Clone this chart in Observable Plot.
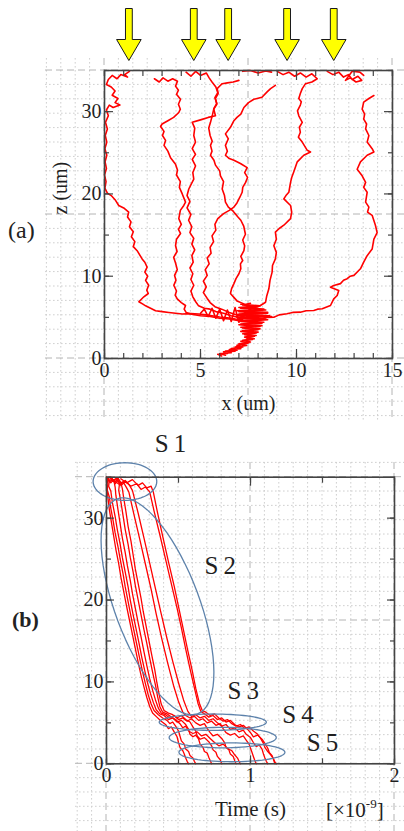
<!DOCTYPE html>
<html><head><meta charset="utf-8">
<script src="https://cdn.jsdelivr.net/npm/d3@7"></script>
<script src="https://cdn.jsdelivr.net/npm/@observablehq/plot@0.6"></script>
<style>
body{margin:0;background:#fff;}
#page{position:relative;width:404px;height:831px;overflow:hidden;font-family:"Liberation Serif",serif;}
.lbl{position:absolute;color:#222;white-space:nowrap;line-height:1;}
</style></head><body><div id="page"></div>
<script>
// ---------- Panel (a): trajectories x (um) vs z (um) ----------
const trajA1 = [[1.3,34.9],[1.05,34.5],[1.2,34.2],[0.85,34.5],[0.65,34.0],[0.4,34.4],[0.2,33.9],[0.1,33.3],[0.35,33.0],[0.55,32.5],[0.4,32.0],[0.7,31.6],[0.55,31.1],[0.8,30.8],[0.45,30.5],[0.25,30.8],[0.1,30.2],[0.2,29.5],[0.05,28.7],[0.15,27.9],[0.04,27.1],[0.12,26.3],[0.02,25.5],[0.12,24.7],[0.03,23.9],[0.1,23.1],[0.0,22.3],[0.08,21.5],[0.02,20.7],[0.15,20.1],[0.35,19.8],[0.55,19.3],[0.74,18.6],[1.0,18.3],[1.26,17.8],[1.2,17.2],[1.38,16.6],[1.3,16.0],[1.5,15.4],[1.4,14.8],[1.58,14.2],[1.5,13.6],[1.7,13.1],[1.96,12.1],[2.1,11.7],[2.22,11.1],[2.1,10.5],[2.25,10.0],[2.14,9.5],[2.3,8.9],[2.2,8.3],[2.28,7.9],[2.05,7.5],[1.79,6.9],[2.0,6.6],[2.14,6.4],[2.4,6.1],[2.66,5.8],[3.0,5.7],[3.35,5.6],[3.7,5.5],[4.05,5.4],[4.5,5.45],[4.91,5.4],[5.3,5.3],[5.6,5.2],[6.0,5.05],[6.4,4.95],[6.82,4.8],[7.2,4.7]];
const trajA2 = [[2.6,34.0],[2.85,33.6],[3.05,34.1],[3.3,33.7],[3.55,34.0],[3.8,33.7],[3.7,33.1],[3.85,32.6],[3.75,32.1],[3.96,31.5],[3.85,30.9],[3.95,30.3],[3.87,29.9],[3.6,29.3],[3.3,28.9],[3.0,28.5],[2.92,28.2],[3.1,27.6],[3.02,27.1],[3.18,26.5],[3.1,25.9],[3.3,25.2],[3.44,24.4],[3.7,23.6],[3.8,22.9],[3.75,22.3],[3.95,21.5],[3.9,20.8],[4.05,20.0],[4.22,19.0],[4.13,18.6],[3.95,18.0],[3.87,17.0],[4.0,16.3],[3.85,15.7],[3.96,15.2],[3.75,14.5],[3.7,13.7],[3.78,13.0],[3.6,12.3],[3.7,11.6],[3.79,10.8],[3.65,10.1],[3.72,9.5],[3.61,8.9],[3.75,8.2],[3.68,7.7],[3.79,7.25],[4.0,6.8],[4.22,6.44],[4.15,6.0],[4.25,5.6],[4.6,5.35],[5.0,5.2],[5.5,5.1],[6.0,4.9],[6.5,4.8],[7.0,4.6]];
const trajA3 = [[4.25,34.8],[4.5,34.3],[4.75,34.9],[5.0,34.4],[5.3,34.7],[5.45,34.1],[5.6,33.6],[5.8,33.0],[5.9,32.3],[5.75,31.7],[5.85,31.0],[5.7,30.4],[5.62,29.6],[5.52,28.7],[5.43,28.0],[5.5,27.1],[5.61,26.4],[5.52,25.9],[5.6,25.2],[5.52,24.7],[5.7,24.1],[5.78,23.5],[6.0,22.8],[6.04,22.2],[6.2,21.5],[6.13,20.6],[6.25,19.8],[6.3,19.0],[6.45,18.4],[6.7,17.9],[6.95,17.2],[7.1,16.8],[7.25,16.1],[7.34,15.1],[7.2,14.4],[7.3,13.7],[7.26,13.1],[7.1,12.4],[7.2,11.9],[7.08,11.5],[7.1,10.9],[7.0,10.3],[6.85,9.7],[6.74,9.1],[6.62,8.5],[6.56,7.9],[6.75,7.4],[6.9,7.0],[7.2,6.7],[7.43,6.4],[7.6,5.8]];
const trajA4 = [[7.0,33.8],[6.7,33.6],[6.4,33.5],[6.13,33.4],[5.95,33.0],[5.87,32.8],[5.92,32.2],[5.78,31.6],[5.85,30.9],[5.69,30.3],[5.78,29.5],[5.4,29.3],[5.0,29.0],[4.57,28.7],[4.7,28.0],[4.65,27.1],[4.74,26.3],[4.57,25.5],[4.74,24.8],[4.57,24.2],[4.74,23.4],[4.6,22.6],[4.65,21.8],[4.39,20.6],[4.3,19.8],[4.45,19.1],[4.3,18.3],[4.5,17.5],[4.38,16.8],[4.55,16.0],[4.45,15.3],[4.65,14.6],[4.55,13.9],[4.7,13.2],[4.55,12.5],[4.62,11.7],[4.45,11.0],[4.6,10.3],[4.5,9.6],[4.65,8.9],[4.5,8.2],[4.6,7.5],[4.75,6.9],[4.9,6.4],[5.2,6.1],[5.5,6.0],[5.8,5.7],[6.2,5.5],[6.6,5.2],[7.0,5.0],[7.4,4.9]];
const trajA5 = [[8.9,33.2],[8.65,32.8],[8.47,32.4],[8.2,31.75],[7.95,31.6],[7.78,31.5],[7.5,31.1],[7.26,30.5],[7.1,29.7],[6.9,29.3],[6.74,28.9],[6.56,28.1],[6.3,27.3],[6.45,26.7],[6.3,25.9],[6.4,25.2],[6.3,24.7],[6.5,24.3],[6.74,24.1],[7.08,23.7],[7.43,23.2],[7.3,22.6],[7.45,22.0],[7.35,21.4],[7.2,20.8],[7.17,20.2],[7.05,19.6],[6.9,18.9],[6.74,18.4],[6.5,18.0],[6.2,17.6],[5.9,17.0],[5.75,16.3],[5.8,15.6],[5.6,14.9],[5.68,14.2],[5.5,13.5],[5.55,12.8],[5.35,12.2],[5.45,11.5],[5.25,10.8],[5.35,10.1],[5.15,9.4],[5.3,8.7],[5.15,8.0],[5.35,7.3],[5.5,6.8],[5.75,6.3],[6.1,6.0],[6.5,5.6],[6.9,5.3],[7.3,5.0]];
const trajA6 = [[9.0,34.9],[9.3,34.5],[9.6,34.8],[9.9,34.3],[10.2,34.7],[10.5,34.2],[10.8,34.6],[11.08,34.0],[10.8,33.6],[10.47,33.4],[10.3,32.8],[10.2,32.2],[10.12,31.6],[10.25,31.2],[10.2,30.8],[10.05,30.1],[10.12,29.5],[10.3,28.7],[10.15,28.1],[10.2,27.5],[10.1,26.9],[10.3,26.3],[10.56,25.3],[10.73,25.1],[10.38,24.7],[10.04,23.9],[9.95,23.3],[9.86,22.7],[9.75,22.0],[9.69,21.4],[9.6,20.2],[9.45,19.8],[9.34,19.4],[9.69,18.6],[9.75,17.8],[9.69,17.0],[9.34,16.2],[9.1,15.8],[8.9,15.35],[8.95,14.5],[8.82,13.7],[8.95,12.9],[8.9,12.1],[8.75,11.3],[8.73,10.5],[8.62,9.5],[8.56,8.47],[8.45,7.6],[8.39,6.84],[8.12,6.44],[7.6,6.0],[7.08,5.2]];
const trajA7 = [[14.03,31.96],[13.77,31.6],[13.5,31.15],[13.42,30.3],[13.55,29.7],[13.5,29.1],[13.65,28.5],[13.6,27.9],[13.77,27.1],[13.68,26.3],[13.94,25.5],[14.03,25.1],[13.68,24.7],[13.33,23.9],[13.16,23.0],[13.42,22.2],[13.6,21.4],[13.5,20.8],[13.68,20.2],[13.6,19.0],[13.77,18.4],[13.7,17.8],[13.94,17.4],[14.11,16.2],[14.2,15.3],[14.03,14.5],[13.94,13.3],[13.68,12.5],[13.5,11.7],[13.33,10.9],[12.99,10.1],[12.8,10.0],[12.64,9.7],[12.45,9.5],[12.29,9.1],[11.94,8.87],[11.77,8.67],[12.2,8.26],[12.12,7.66],[11.94,7.25],[11.77,6.44],[11.34,6.04],[11.1,6.0],[10.9,5.83],[10.5,5.8],[10.2,5.63],[9.8,5.6],[9.5,5.43],[9.1,5.3],[8.82,5.02],[8.45,5.0],[8.12,4.82],[7.6,4.62]];
const trajA8 = [[11.6,34.9],[11.9,34.5],[12.2,34.8],[12.45,34.2],[12.7,34.5],[12.9,33.9],[13.2,34.3],[13.4,33.8],[13.1,33.6],[12.8,34.1],[12.55,33.8],[12.9,34.9],[13.3,34.8],[13.5,34.4]];
const trajA9 = [[7.2,34.9],[7.6,35.0],[8.0,34.7],[8.4,34.95],[8.7,34.8]];
const clusterA1 = [[7.1,6.6],[8.1,6.4],[7.0,6.2],[8.3,6.0],[6.9,5.8],[8.5,5.6],[7.0,5.4],[8.6,5.2],[6.9,5.0],[8.4,4.8],[7.0,4.6],[8.3,4.4],[7.1,4.2],[8.2,4.0],[7.1,3.8],[8.1,3.6],[7.2,3.4],[8.0,3.2],[7.2,3.0],[7.9,2.8],[7.3,2.6],[7.8,2.4],[7.2,2.2],[7.6,2.0],[7.0,1.8],[7.4,1.6],[6.8,1.4],[7.1,1.2],[6.5,1.1],[6.8,0.9],[6.2,0.8],[6.4,0.6],[5.9,0.5],[6.1,0.3]];
const clusterA2 = [[7.6,6.7],[7.2,6.5],[8.0,6.3],[7.1,6.1],[8.4,5.9],[7.0,5.7],[8.5,5.5],[6.9,5.3],[8.7,5.1],[7.0,4.9],[8.5,4.7],[7.1,4.5],[8.2,4.3],[7.0,4.1],[8.1,3.9],[7.2,3.7],[8.0,3.5],[7.1,3.3],[7.9,3.1],[7.3,2.9],[7.8,2.7],[7.4,2.5],[7.7,2.3],[7.1,2.1],[7.5,1.9],[6.9,1.6],[7.2,1.4],[6.6,1.2],[6.9,1.0],[6.3,0.9],[6.6,0.7],[6.0,0.6],[6.3,0.4]];
const clusterA3 = [[5.0,5.5],[5.2,6.0],[5.4,5.1],[5.6,6.1],[5.8,4.9],[6.0,6.0],[6.2,4.6],[6.4,5.9],[6.6,4.5],[6.8,6.2],[7.0,4.4],[7.3,5.3]];
const trajsA = [trajA1,trajA2,trajA3,trajA4,trajA5,trajA6,trajA7,trajA8,trajA9,clusterA1,clusterA2,clusterA3];
const arrowX = [1.27, 4.65, 6.44, 9.51, 11.94];
const xTicksA = [0,5,10,15];
const xMinorA = [0,1,2,3,4,5,6,7,8,9,10,11,12,13,14,15];
const zTicks = [0,10,20,30];
const zMinor = [0,5,10,15,20,25,30,35];

// ---------- Panel (b): z vs time (x1e-9 s) ----------
const trajB1 = [[0,35],[0.01,34.2],[0.005,33.4],[0.02,32.6],[0.03,31.2],[0.045,29.8],[0.06,28.2],[0.08,26.5],[0.095,25.0],[0.115,23.2],[0.13,21.6],[0.15,19.8],[0.17,18.0],[0.19,16.3],[0.21,14.6],[0.23,12.9],[0.25,11.3],[0.27,9.8],[0.29,8.4],[0.31,7.3],[0.33,6.5],[0.36,6.0],[0.39,5.6],[0.42,5.3],[0.44,4.9],[0.46,5.1],[0.48,4.6],[0.5,4.0],[0.51,3.4],[0.52,2.8],[0.54,2.4],[0.55,1.8],[0.57,1.5],[0.58,1.0],[0.6,0.7],[0.61,0.3],[0.62,0]];
const trajB2 = [[0,35],[0.02,34.6],[0.015,33.9],[0.03,33.3],[0.04,32.0],[0.06,30.2],[0.075,28.6],[0.095,26.8],[0.11,25.2],[0.13,23.4],[0.15,21.6],[0.165,20.0],[0.185,18.2],[0.205,16.5],[0.225,14.8],[0.245,13.0],[0.265,11.4],[0.285,9.9],[0.305,8.6],[0.325,7.5],[0.345,6.6],[0.37,6.1],[0.4,5.9],[0.43,5.4],[0.46,5.6],[0.49,5.1],[0.52,5.3],[0.55,4.8],[0.57,4.2],[0.58,3.6],[0.6,3.3],[0.62,3.5],[0.64,3.0],[0.65,2.4],[0.67,2.0],[0.68,1.5],[0.7,1.3],[0.71,0.8],[0.72,0.4],[0.73,0]];
const trajB3 = [[0.01,35],[0.03,34.3],[0.05,34.7],[0.06,33.8],[0.065,32.8],[0.08,31.0],[0.095,29.3],[0.11,27.6],[0.13,25.8],[0.145,24.2],[0.165,22.4],[0.18,20.8],[0.2,19.0],[0.22,17.2],[0.24,15.5],[0.26,13.7],[0.28,12.0],[0.3,10.4],[0.32,9.0],[0.34,7.8],[0.36,6.8],[0.38,6.2],[0.41,6.0],[0.44,5.6],[0.47,5.9],[0.5,5.4],[0.53,5.6],[0.56,5.2],[0.59,5.5],[0.62,5.0],[0.65,4.7],[0.68,4.9],[0.7,4.3],[0.72,3.8],[0.74,3.4],[0.77,3.6],[0.8,3.1],[0.82,2.6],[0.83,2.0],[0.85,1.7],[0.86,1.2],[0.88,0.9],[0.89,0.4],[0.9,0]];
const trajB4 = [[0.02,35],[0.04,34.5],[0.07,34.9],[0.09,34.2],[0.085,33.4],[0.1,32.0],[0.115,30.3],[0.13,28.6],[0.15,26.8],[0.165,25.2],[0.185,23.4],[0.2,21.8],[0.22,20.0],[0.24,18.2],[0.26,16.4],[0.28,14.7],[0.3,12.9],[0.32,11.2],[0.34,9.6],[0.355,8.2],[0.37,7.0],[0.39,6.3],[0.42,6.1],[0.45,5.7],[0.48,5.4],[0.51,4.9],[0.53,4.4],[0.55,4.6],[0.57,4.0],[0.6,3.7],[0.63,3.9],[0.66,3.4],[0.69,3.6],[0.72,3.1],[0.75,2.6],[0.78,2.2],[0.81,2.4],[0.84,1.9],[0.87,1.6],[0.89,1.1],[0.91,0.7],[0.92,0.3],[0.93,0]];
const trajB5 = [[0,34.6],[0.005,33.6],[0.01,32.5],[0.02,31.0],[0.035,29.4],[0.05,27.8],[0.065,26.2],[0.085,24.4],[0.1,22.8],[0.12,21.0],[0.14,19.2],[0.16,17.5],[0.18,15.8],[0.2,14.1],[0.22,12.4],[0.24,10.8],[0.26,9.4],[0.28,8.1],[0.3,7.0],[0.32,6.2],[0.35,5.7],[0.38,5.2],[0.41,4.8],[0.43,4.3],[0.45,4.5],[0.47,3.9],[0.49,3.3],[0.5,2.6],[0.51,2.0],[0.53,1.6],[0.54,1.2],[0.55,0.7],[0.56,0.3],[0.57,0]];
const trajB6 = [[0.03,35],[0.06,34.4],[0.08,34.8],[0.1,34.3],[0.11,33.6],[0.12,32.4],[0.135,30.8],[0.15,29.0],[0.17,27.2],[0.185,25.5],[0.2,23.8],[0.22,22.0],[0.24,20.2],[0.255,18.6],[0.275,16.8],[0.295,15.0],[0.315,13.2],[0.335,11.5],[0.35,9.9],[0.365,8.5],[0.38,7.3],[0.4,6.5],[0.43,6.2],[0.46,6.0],[0.49,5.6],[0.52,5.9],[0.55,5.4],[0.58,5.1],[0.6,4.5],[0.62,4.0],[0.63,3.4],[0.65,3.0],[0.68,3.2],[0.71,2.7],[0.73,2.2],[0.74,1.7],[0.76,1.4],[0.77,0.9],[0.79,0.5],[0.8,0]];
const trajB7 = [[0,35],[0.02,34.4],[0.04,34.8],[0.06,34.2],[0.08,34.6],[0.1,34.0],[0.12,34.3],[0.14,33.7],[0.155,33.2],[0.19,30.5],[0.23,27.5],[0.27,24.4],[0.31,21.3],[0.345,18.3],[0.385,15.2],[0.425,12.3],[0.465,9.6],[0.5,7.6],[0.53,6.3],[0.55,5.9],[0.58,5.6],[0.61,5.8],[0.64,5.3],[0.67,5.5],[0.7,5.0],[0.73,5.2],[0.76,4.7],[0.79,4.9],[0.81,4.3],[0.83,3.8],[0.86,3.5],[0.89,3.7],[0.92,3.2],[0.95,3.4],[0.97,2.9],[0.99,2.4],[1.0,1.9],[1.01,1.4],[1.02,0.9],[1.03,0.4],[1.04,0]];
const trajB8 = [[0.03,35],[0.05,34.5],[0.08,34.9],[0.1,34.3],[0.13,34.6],[0.16,34.0],[0.18,33.4],[0.22,30.6],[0.26,27.6],[0.3,24.5],[0.34,21.4],[0.38,18.3],[0.42,15.3],[0.46,12.5],[0.5,9.9],[0.535,7.8],[0.565,6.4],[0.59,5.8],[0.62,6.0],[0.65,5.6],[0.68,5.8],[0.71,5.3],[0.74,5.5],[0.77,5.0],[0.8,4.6],[0.83,4.8],[0.86,4.2],[0.89,4.4],[0.92,3.9],[0.95,4.1],[0.97,3.6],[1.0,3.2],[1.02,2.6],[1.04,2.1],[1.06,2.3],[1.08,1.8],[1.09,1.2],[1.1,0.7],[1.11,0.3],[1.12,0]];
const trajB9 = [[0.05,34.6],[0.09,34.1],[0.13,34.5],[0.17,33.9],[0.21,34.2],[0.24,33.5],[0.27,33.8],[0.3,33.2],[0.33,30.9],[0.37,28.0],[0.41,25.0],[0.45,22.0],[0.49,19.0],[0.52,16.6],[0.55,14.0],[0.58,11.6],[0.61,9.3],[0.635,7.4],[0.655,6.4],[0.68,6.1],[0.71,5.7],[0.74,5.9],[0.77,5.4],[0.8,5.6],[0.83,5.1],[0.86,5.3],[0.89,4.8],[0.92,4.5],[0.95,4.7],[0.98,4.2],[1.0,3.8],[1.02,3.3],[1.05,3.5],[1.08,3.0],[1.1,2.5],[1.12,1.9],[1.13,1.4],[1.15,1.0],[1.16,0.5],[1.17,0]];
const trajB10 = [[0.1,34.8],[0.14,34.3],[0.18,34.7],[0.22,34.0],[0.25,34.3],[0.28,33.7],[0.31,33.9],[0.325,33.2],[0.355,30.6],[0.39,27.8],[0.43,24.7],[0.47,21.7],[0.505,18.8],[0.535,16.3],[0.565,13.8],[0.595,11.4],[0.62,9.2],[0.645,7.4],[0.665,6.5],[0.69,6.3],[0.72,5.9],[0.75,6.1],[0.78,5.6],[0.81,5.2],[0.84,5.4],[0.87,4.9],[0.9,4.6],[0.93,4.8],[0.96,4.3],[0.99,4.5],[1.02,4.0],[1.05,3.6],[1.07,3.1],[1.09,2.5],[1.1,2.0],[1.12,1.5],[1.14,1.1],[1.16,0.6],[1.17,0.2],[1.18,0]];
const trajsB = [trajB1,trajB2,trajB3,trajB4,trajB5,trajB6,trajB7,trajB8,trajB9,trajB10];
const stageNames = ["S1","S2","S3","S4","S5"];
const stageLabelT = [0.444, 0.79, 0.95, 1.33, 1.5];
const stageLabelZ = [39.0, 24.2, 8.95, 5.9, 2.6];
const ellCenterT = [0.128, 0.354, 0.738, 0.807, 0.871];
const ellCenterZ = [34.47, 19.23, 5.08, 3.2, 1.4];
const ellAxis1T = [0.221, 0.279, 0.372, 0.372, 0.368];
const ellAxis1Z = [0, -13.13, 0, 0, 0];
const ellAxis2T = [0, 0.275, 0, 0, 0];
const ellAxis2Z = [2.3, 1.78, 1.0, 1.25, 1.15];
const tTicks = [0,1,2];
const tMinor = [0,0.5,1,1.5,2];

// ---------- build ----------
const page = document.getElementById("page");
const RED = "#ff0000", AX = "#444", TXT = "#1f1f1f";

// grid paper background
const bg = d3.create("svg").attr("width",404).attr("height",831)
  .style("position","absolute").style("left","0px").style("top","0px");
function paper(x0, y0, dx, dy, kx0, kx1, ky0, ky1, xmin, xmax, ymin, ymax) {
  for (let k = kx0; k <= kx1; k++) {
    const x = x0 + k*dx, major = k % 10 === 0;
    bg.append("line").attr("x1",x).attr("x2",x).attr("y1",ymin).attr("y2",ymax)
      .attr("stroke", major ? "#b4b4b4" : "#cfcfcf").attr("stroke-width",1)
      .attr("stroke-dasharray", major ? "7 4" : "1.6 2.4");
  }
  for (let k = ky0; k <= ky1; k++) {
    const y = y0 + k*dy, major = k % 10 === 0;
    bg.append("line").attr("y1",y).attr("y2",y).attr("x1",xmin).attr("x2",xmax)
      .attr("stroke", major ? "#b4b4b4" : "#cfcfcf").attr("stroke-width",1)
      .attr("stroke-dasharray", major ? "7 4" : "1.6 2.4");
  }
}
paper(104, 70, 14.4, 14.4, -4, 21, 0, 24, 45, 404, 58, 420);
paper(106, 476.7, 14.4, 14.33, -2, 20, -1, 24, 75, 404, 462, 831);
page.appendChild(bg.node());

function flat(list) {
  return list.flatMap((pts, i) => pts.map(([x, y]) => ({id: i, x, y})));
}
function inwardTicks(xMajor, xMinor, yMajor, yMinor, big, small) {
  const o = {stroke: AX, strokeWidth: 1.2, label: null, tickFormat: () => ""};
  return [
    Plot.axisX({...o, anchor: "bottom", ticks: xMinor, tickSize: small, dy: -small}),
    Plot.axisX({...o, anchor: "bottom", ticks: xMajor, tickSize: big, dy: -big}),
    Plot.axisX({...o, anchor: "top", ticks: xMinor, tickSize: small, dy: small}),
    Plot.axisX({...o, anchor: "top", ticks: xMajor, tickSize: big, dy: big}),
    Plot.axisY({...o, anchor: "left", ticks: yMinor, tickSize: small, dx: small}),
    Plot.axisY({...o, anchor: "left", ticks: yMajor, tickSize: big, dx: big}),
    Plot.axisY({...o, anchor: "right", ticks: yMinor, tickSize: small, dx: -small}),
    Plot.axisY({...o, anchor: "right", ticks: yMajor, tickSize: big, dx: -big})
  ];
}
function place(svg, top) {
  svg.style.position = "absolute";
  svg.style.left = "0px";
  svg.style.top = top + "px";
  svg.style.background = "transparent";
  svg.style.overflow = "visible";
  svg.setAttribute("font-family", "Liberation Serif, serif");
  svg.setAttribute("font-size", "20");
  page.appendChild(svg);
}

const arrowSymbol = {
  draw(ctx) {
    ctx.moveTo(-3.4, -62); ctx.lineTo(3.4, -62); ctx.lineTo(3.4, -31);
    ctx.lineTo(12.3, -31); ctx.lineTo(0, -10); ctx.lineTo(-12.3, -31);
    ctx.lineTo(-3.4, -31); ctx.closePath();
  }
};

const plotA = Plot.plot({
  width: 404, height: 420,
  marginTop: 70, marginRight: 12, marginBottom: 62, marginLeft: 104,
  x: {domain: [0, 15]}, y: {domain: [0, 35]},
  marks: [
    Plot.line(flat(trajsA), {x: "x", y: "y", z: "id", stroke: RED, strokeWidth: 1.6, strokeLinejoin: "round"}),
    Plot.frame({stroke: AX, strokeWidth: 1.6}),
    ...inwardTicks(xTicksA, xMinorA, zTicks, zMinor, 9, 5),
    Plot.axisX({anchor: "bottom", ticks: xTicksA, tickSize: 0, tickPadding: 4, tickFormat: d => String(d), label: null, fill: TXT, fontSize: 20}),
    Plot.axisY({anchor: "left", ticks: zTicks, tickSize: 0, tickPadding: 3, tickFormat: d => String(d), label: null, fill: TXT, fontSize: 20}),
    Plot.text(["x (um)"], {frameAnchor: "bottom", lineAnchor: "middle", dy: 45, fill: TXT, fontSize: 20}),
    Plot.text(["z (um)"], {frameAnchor: "left", lineAnchor: "middle", rotate: -90, dx: -44, fill: TXT, fontSize: 20}),
    Plot.dot(arrowX, {x: d => d, frameAnchor: "top", symbol: arrowSymbol, fill: "#ffff00", stroke: "#1a1a1a", strokeWidth: 1})
  ]
});
place(plotA, 0);

const ellipsePts = stageNames.flatMap((name, i) =>
  d3.range(0, 73).map(k => {
    const a = k / 72 * 2 * Math.PI;
    return {id: name,
      x: ellCenterT[i] + Math.cos(a) * ellAxis1T[i] + Math.sin(a) * ellAxis2T[i],
      y: ellCenterZ[i] + Math.cos(a) * ellAxis1Z[i] + Math.sin(a) * ellAxis2Z[i]};
  }));

const plotB = Plot.plot({
  width: 404, height: 411,
  marginTop: 56.7, marginRight: 10, marginBottom: 67.7, marginLeft: 106,
  x: {domain: [0, 2]}, y: {domain: [0, 35]},
  marks: [
    Plot.line(flat(trajsB), {x: "x", y: "y", z: "id", stroke: RED, strokeWidth: 1.3, strokeLinejoin: "round"}),
    Plot.line(ellipsePts, {x: "x", y: "y", z: "id", stroke: "#5d82ab", strokeWidth: 1.3}),
    Plot.frame({stroke: AX, strokeWidth: 1.6}),
    ...inwardTicks(tTicks, tMinor, zTicks, zMinor, 8, 5),
    Plot.axisX({anchor: "bottom", ticks: tTicks, tickSize: 0, tickPadding: 4, tickFormat: d => String(d), label: null, fill: TXT, fontSize: 20}),
    Plot.axisY({anchor: "left", ticks: zTicks, tickSize: 0, tickPadding: 3, tickFormat: d => String(d), label: null, fill: TXT, fontSize: 20}),
    Plot.text(["Time (s)"], {frameAnchor: "bottom", lineAnchor: "middle", dy: 45, fill: TXT, fontSize: 21}),
    Plot.text(stageNames, {x: (d, i) => stageLabelT[i], y: (d, i) => stageLabelZ[i], text: d => d[0] + "\u2009" + d.slice(1), fill: TXT, fontSize: 25, lineAnchor: "middle"})
  ]
});
place(plotB, 420);

function label(html, left, top, size, weight) {
  const d = document.createElement("div");
  d.className = "lbl";
  d.innerHTML = html;
  d.style.left = left + "px"; d.style.top = top + "px";
  d.style.fontSize = size + "px"; d.style.fontWeight = weight || "normal";
  page.appendChild(d);
}
label("(a)", 8, 218, 24);
label("(b)", 12, 609, 22, "bold");
label("[×10<sup style='font-size:13px;vertical-align:9px'>-9</sup>]", 326, 797, 21);
</script></body></html>
